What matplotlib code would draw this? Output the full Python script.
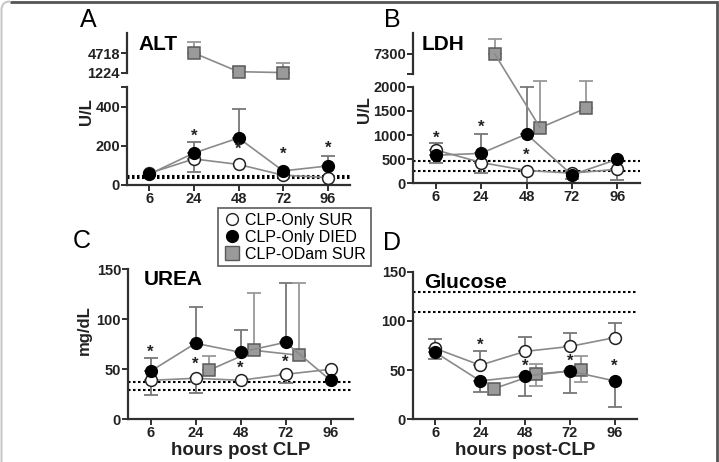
import numpy as np
import matplotlib.pyplot as plt
from matplotlib.lines import Line2D
from matplotlib.patches import ConnectionPatch, PathPatch
from matplotlib.path import Path
from matplotlib.transforms import Affine2D

plt.rcParams['font.family'] = ['Liberation Sans', 'DejaVu Sans']

hours = ['6', '24', '48', '72', '96']

# ALT (U/L)
alt_sur = [60, 133, 105, 50, 38]
alt_sur_lo = [0, 66, 0, 0, 0]
alt_died = [55, 163, 240, 72, 97]
alt_died_hi = [0, 57, 150, 0, 50]
alt_odam_x = [1, 2, 3]
alt_odam = [4718, 1450, 1300]
alt_odam_hi = [1950, 820, 1650]
alt_ref = [44, 35]
alt_stars = [(1, 250), (2, 180), (3, 155), (4, 185)]

# LDH (U/L)
ldh_sur = [690, 430, 265, 210, 290]
ldh_sur_lo = [270, 220, 265, 130, 220]
ldh_died = [580, 620, 1020, 175, 497]
ldh_died_hi = [245, 395, 980, 0, 0]
ldh_odam_x = [1.3, 2.3, 3.3]
ldh_odam = [7300, 1150, 1550]
ldh_odam_hi = [930, 975, 575]
ldh_ref = [465, 245]
ldh_stars = [(0, 930), (1, 1160), (2, 580)]

# UREA (mg/dL)
urea_sur = [39, 41, 39, 45, 50]
urea_sur_lo = [15, 15, 0, 9, 0]
urea_died = [48, 76, 67, 77, 39]
urea_died_hi = [13, 36, 22, 59, 0]
urea_odam_x = [1.3, 2.3, 3.3]
urea_odam = [49, 69, 64]
urea_odam_hi = [14, 57, 72]
urea_ref = [37, 29]
urea_stars = [(0, 67), (1, 55), (2, 51), (3, 57)]

# Glucose (mg/dL)
glu_sur = [72, 55, 69, 74, 83]
glu_sur_hi = [10, 14, 15, 14, 15]
glu_died = [68, 39, 44, 49, 39]
glu_died_lo = [7, 11, 20, 22, 26]
glu_odam_x = [1.3, 2.25, 3.25]
glu_odam = [31, 46, 50]
glu_odam_hi = [0, 10, 14]
glu_odam_lo = [0, 12, 12]
glu_ref = [129, 109]
glu_stars = [(1, 75), (2, 54), (3, 59), (4, 54)]

W, H = 719, 462
fig = plt.figure(figsize=(W / 100, H / 100), dpi=100)


def rect(x0, y0, x1, y1):
    return [x0 / W, 1 - y1 / H, (x1 - x0) / W, (y1 - y0) / H]


LINE = '#8a8a8a'
SQ_FACE = '#9a9a9a'
SQ_EDGE = '#5a5a5a'
AX = '#303030'
MS = 8.5


def style(ax, bottom=True):
    for s in ['top', 'right']:
        ax.spines[s].set_visible(False)
    ax.spines['left'].set_linewidth(1.6)
    ax.spines['left'].set_color(AX)
    ax.spines['bottom'].set_linewidth(1.6)
    ax.spines['bottom'].set_color(AX)
    ax.tick_params(width=1.4, length=4, color=AX, labelsize=10.5, pad=1)
    for lab in ax.get_xticklabels() + ax.get_yticklabels():
        lab.set_fontweight('bold')
        lab.set_color('#222')
    if not bottom:
        ax.spines['bottom'].set_visible(False)
        ax.set_xticks([])
    ax.set_xlim(-0.5, 4.5)
    ax.patch.set_alpha(0)


def errs(ax, x, y, lo, hi, color):
    x = np.asarray(x, float)
    y = np.asarray(y, float)
    lo = np.asarray(lo, float)
    hi = np.asarray(hi, float)
    m = hi > 0
    if m.any():
        ax.errorbar(x[m], y[m], yerr=[np.zeros(m.sum()), hi[m]], fmt='none',
                    ecolor=color, elinewidth=1.3, capsize=5, capthick=1.3,
                    zorder=2, clip_on=False)
    m = lo > 0
    if m.any():
        ax.errorbar(x[m], y[m], yerr=[lo[m], np.zeros(m.sum())], fmt='none',
                    ecolor=color, elinewidth=1.3, capsize=5, capthick=1.3,
                    zorder=2, clip_on=False)


def series(ax, x, y, kind):
    if kind == 'sur':
        ax.plot(x, y, '-o', color=LINE, lw=1.2, ms=MS, mfc='white', mec='#222',
                mew=1.1, zorder=4, clip_on=False)
    elif kind == 'died':
        ax.plot(x, y, '-o', color=LINE, lw=1.2, ms=MS, mfc='black', mec='black',
                zorder=5, clip_on=False)
    else:
        ax.plot(x, y, '-s', color=LINE, lw=1.2, ms=MS, mfc=SQ_FACE, mec=SQ_EDGE,
                mew=1.1, zorder=3, clip_on=False)


def stars(ax, pts):
    for x, y in pts:
        ax.text(x, y, '*', ha='center', va='center', fontsize=12,
                fontweight='bold', color='#222', zorder=6)


def refs(ax, vals):
    for v in vals:
        ax.axhline(v, color='black', ls=(0, (1.2, 1.2)), lw=1.5, zorder=1)


xs = np.arange(5)

# ---------------- A: ALT ----------------
axA = fig.add_axes(rect(127, 87, 350, 185))
refs(axA, alt_ref)
errs(axA, xs, alt_sur, alt_sur_lo, np.zeros(5), '#777')
errs(axA, xs, alt_died, np.zeros(5), alt_died_hi, '#777')
series(axA, xs, alt_sur, 'sur')
series(axA, xs, alt_died, 'died')
stars(axA, alt_stars)
axA.set_ylim(0, 500)
axA.set_yticks([0, 200, 400, 500])
axA.set_yticklabels(['0', '200', '400', ''])
axA.set_xticks(xs)
axA.set_xticklabels(hours)
style(axA)

axAu = fig.add_axes(rect(127, 33, 350, 73))
errs(axAu, alt_odam_x, alt_odam, np.zeros(3), alt_odam_hi, '#999')
series(axAu, alt_odam_x, alt_odam, 'odam')
axAu.set_ylim(1224, 8212)
axAu.set_yticks([1224, 4718])
style(axAu, bottom=False)
axAu.text(0.05, 0.72, 'ALT', transform=axAu.transAxes, fontsize=15,
          fontweight='bold', va='center')
fig.text(86 / W, 1 - 112 / H, 'U/L', rotation=90, ha='center', va='center',
         fontsize=12, fontweight='bold', color='#222')
fig.text(88 / W, 1 - 20 / H, 'A', fontsize=18, ha='center', va='center')

# ---------------- B: LDH ----------------
axB = fig.add_axes(rect(413, 78, 640, 183.3))
refs(axB, ldh_ref)
errs(axB, xs, ldh_sur, ldh_sur_lo, np.zeros(5), '#777')
errs(axB, xs, ldh_died, np.zeros(5), ldh_died_hi, '#777')
errs(axB, ldh_odam_x[1:], ldh_odam[1:], np.zeros(2), ldh_odam_hi[1:], '#999')
series(axB, xs, ldh_sur, 'sur')
series(axB, xs, ldh_died, 'died')
series(axB, ldh_odam_x[1:], ldh_odam[1:], 'odam')
stars(axB, ldh_stars)
axB.set_ylim(0, 2000 * (183.3 - 78) / (183.3 - 86.7))
axB.spines['left'].set_bounds(0, 2000)
axB.set_yticks([0, 500, 1000, 1500, 2000])
axB.set_xticks(xs)
axB.set_xticklabels(hours)
style(axB)

axBu = fig.add_axes(rect(413, 33, 640, 74))
errs(axBu, ldh_odam_x[:1], ldh_odam[:1], [0], ldh_odam_hi[:1], '#999')
series(axBu, ldh_odam_x[:1], ldh_odam[:1], 'odam')
axBu.set_ylim(6000, 8650)
axBu.set_yticks([6000, 7300])
axBu.set_yticklabels(['', '7300'])
style(axBu, bottom=False)
axBu.text(0.04, 0.72, 'LDH', transform=axBu.transAxes, fontsize=15,
          fontweight='bold', va='center')
# connecting line across the broken axis
con = ConnectionPatch(xyA=(ldh_odam_x[0], ldh_odam[0]), coordsA=axBu.transData,
                      xyB=(ldh_odam_x[1], ldh_odam[1]), coordsB=axB.transData,
                      color=LINE, lw=1.2, zorder=1)
fig.add_artist(con)
fig.text(365 / W, 1 - 110 / H, 'U/L', rotation=90, ha='center', va='center',
         fontsize=12, fontweight='bold', color='#222')
fig.text(392 / W, 1 - 20 / H, 'B', fontsize=18, ha='center', va='center')

# ---------------- C: UREA ----------------
axC = fig.add_axes(rect(128, 269.3, 353, 419.3))
refs(axC, urea_ref)
errs(axC, xs, urea_sur, urea_sur_lo, np.zeros(5), '#777')
errs(axC, xs, urea_died, np.zeros(5), urea_died_hi, '#777')
errs(axC, urea_odam_x, urea_odam, np.zeros(3), urea_odam_hi, '#999')
series(axC, urea_odam_x, urea_odam, 'odam')
series(axC, xs, urea_sur, 'sur')
series(axC, xs, urea_died, 'died')
stars(axC, urea_stars)
axC.set_ylim(0, 150)
axC.set_yticks([0, 50, 100, 150])
axC.set_xticks(xs)
axC.set_xticklabels(hours)
style(axC)
axC.text(0.07, 0.93, 'UREA', transform=axC.transAxes, fontsize=15,
         fontweight='bold', va='center')
axC.set_xlabel('hours post CLP', fontsize=13.5, fontweight='bold', labelpad=1,
               color='#222')
fig.text(84 / W, 1 - 330 / H, 'mg/dL', rotation=90, ha='center', va='center',
         fontsize=12, fontweight='bold', color='#222')
fig.text(82 / W, 1 - 241 / H, 'C', fontsize=18, ha='center', va='center')

# ---------------- D: Glucose ----------------
axD = fig.add_axes(rect(413, 271.7, 637, 419.3))
refs(axD, glu_ref)
errs(axD, xs, glu_sur, np.zeros(5), glu_sur_hi, '#777')
errs(axD, xs, glu_died, glu_died_lo, np.zeros(5), '#777')
errs(axD, glu_odam_x, glu_odam, glu_odam_lo, glu_odam_hi, '#999')
series(axD, glu_odam_x, glu_odam, 'odam')
series(axD, xs, glu_died, 'died')
series(axD, xs, glu_sur, 'sur')
stars(axD, glu_stars)
axD.set_ylim(0, 150)
axD.set_yticks([0, 50, 100, 150])
axD.set_xticks(xs)
axD.set_xticklabels(hours)
style(axD)
axD.text(0.05, 0.93, 'Glucose', transform=axD.transAxes, fontsize=15,
         fontweight='bold', va='center')
axD.set_xlabel('hours post-CLP', fontsize=13.5, fontweight='bold', labelpad=1,
               color='#222')
fig.text(392 / W, 1 - 243 / H, 'D', fontsize=18, ha='center', va='center')

# legend
handles = [
    Line2D([], [], ls='none', marker='o', ms=MS, mfc='white', mec='#222'),
    Line2D([], [], ls='none', marker='o', ms=MS, mfc='black', mec='black'),
    Line2D([], [], ls='none', marker='s', ms=MS + 1, mfc=SQ_FACE, mec=SQ_EDGE),
]
leg = fig.legend(handles, ['CLP-Only SUR', 'CLP-Only DIED', 'CLP-ODam SUR'],
                 loc='upper left', bbox_to_anchor=(218 / W, 1 - 208 / H),
                 fontsize=11.5, frameon=True, fancybox=False, borderpad=0.3,
                 handletextpad=0.2, handlelength=1.2, labelspacing=0.12,
                 borderaxespad=0)
leg.get_frame().set_edgecolor('#333')
leg.get_frame().set_linewidth(1.2)

# outer frame (pixel coords, origin top-left)
to_fig = Affine2D().scale(1 / W, -1 / H).translate(0, 1) + fig.transFigure
top = Path([(10, 1.5), (717, 1.5), (717, 470)],
           [Path.MOVETO, Path.LINETO, Path.LINETO])
left = Path([(1.5, 470), (1.5, 10), (1.5, 1.5), (10, 1.5)],
            [Path.MOVETO, Path.LINETO, Path.CURVE3, Path.CURVE3])
fig.add_artist(PathPatch(top, transform=to_fig, fill=False, ec='#555', lw=2))
fig.add_artist(PathPatch(left, transform=to_fig, fill=False, ec='#c8c8c8', lw=1.5))

plt.savefig('out.png', dpi=100)
